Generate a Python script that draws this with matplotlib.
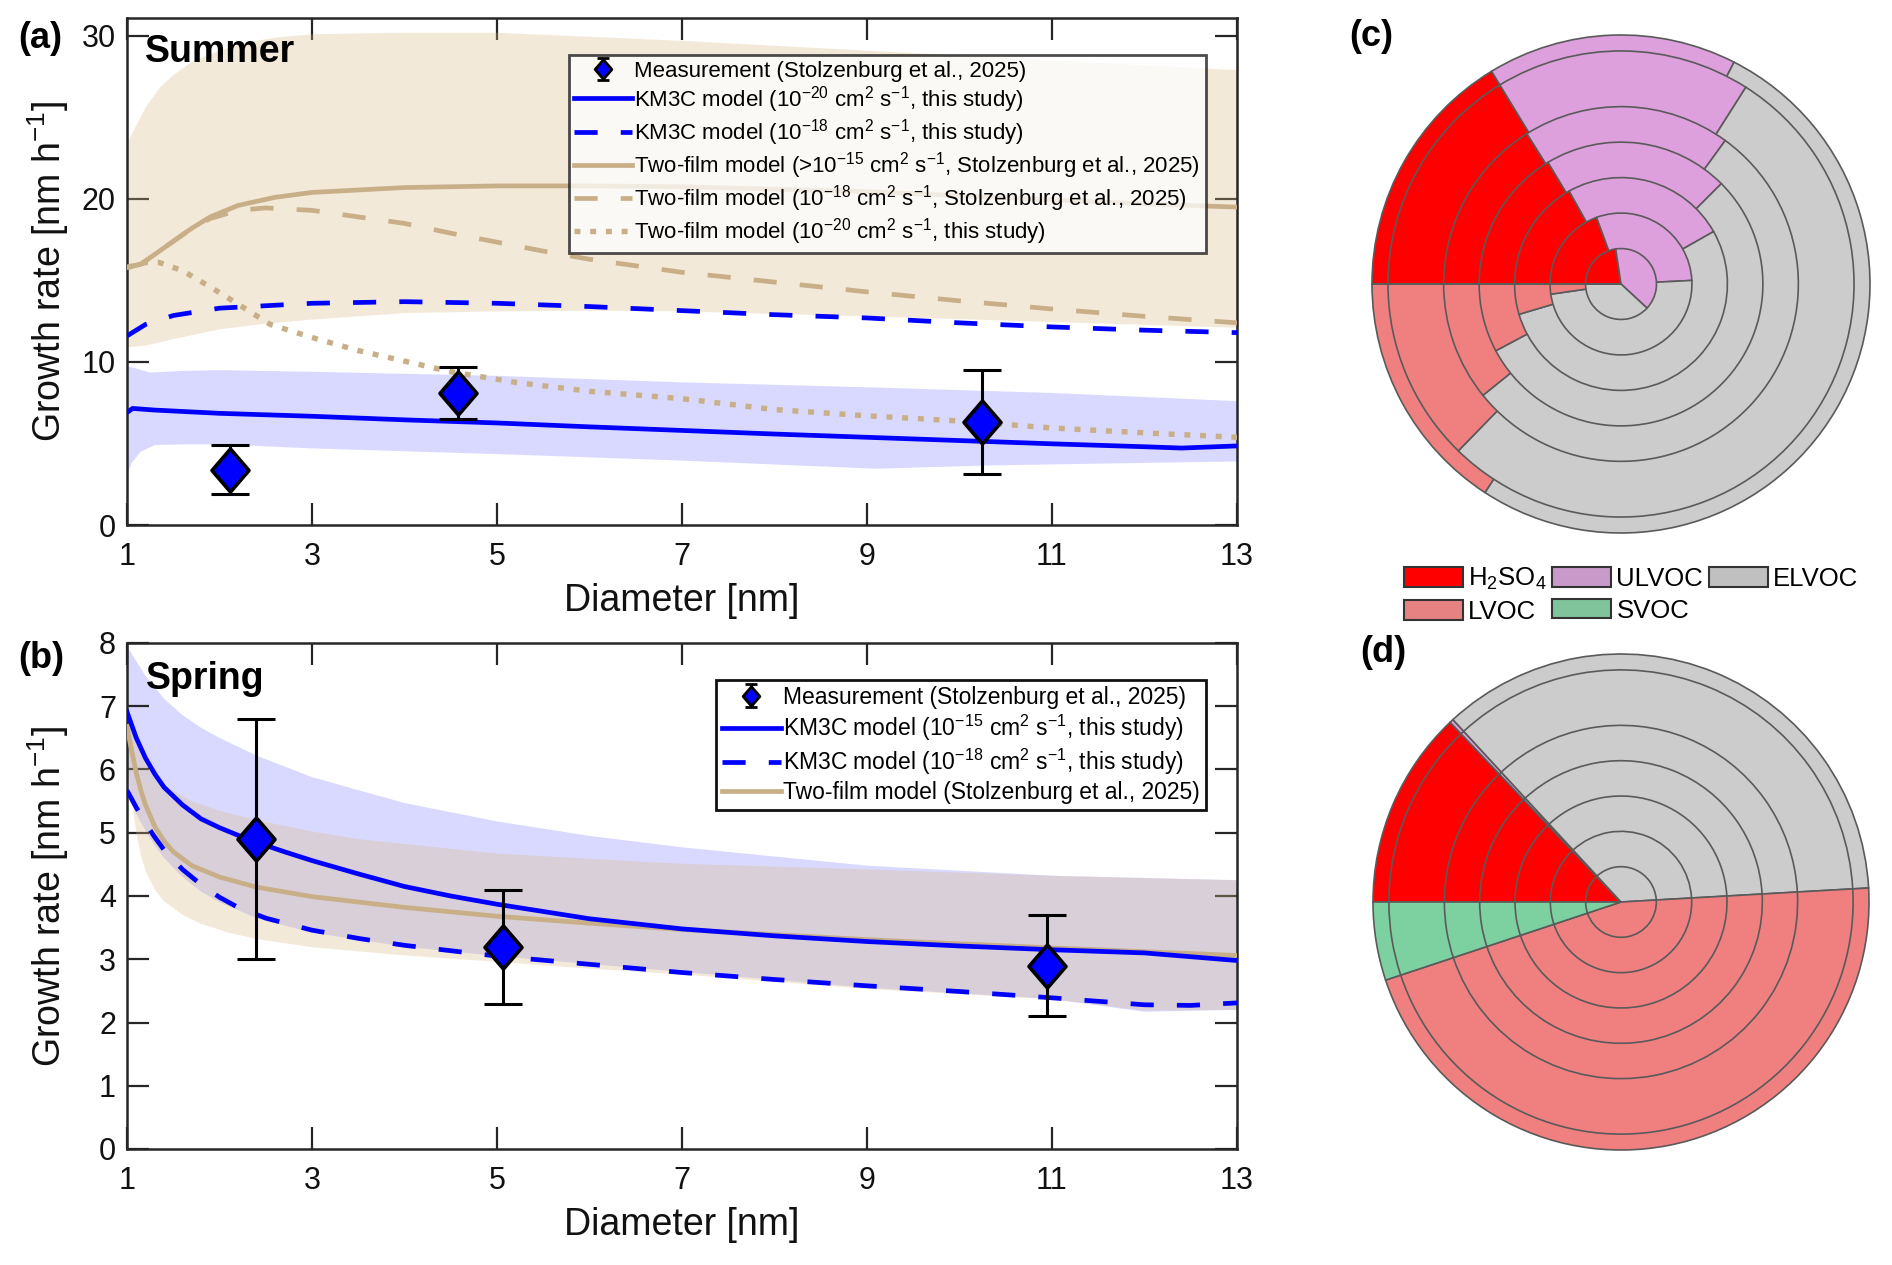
import numpy as np
import matplotlib
matplotlib.use("Agg")
import matplotlib.pyplot as plt
from matplotlib.path import Path
from matplotlib.patches import Patch

plt.rcParams['font.family'] = ['Liberation Sans', 'DejaVu Sans']
plt.rcParams['mathtext.fontset'] = 'custom'
plt.rcParams['mathtext.rm'] = 'Liberation Sans'
plt.rcParams['mathtext.it'] = 'Liberation Sans:italic'
plt.rcParams['mathtext.bf'] = 'Liberation Sans:bold'

# ---------------- data: panel (a) Summer ----------------
meas_a_x = [2.11, 4.58, 10.24]
meas_a_y = [3.4, 8.1, 6.3]
meas_a_err = [1.5, 1.6, 3.2]

km3c20_a_x = [1.0, 1.06, 1.3, 2, 3, 4, 5, 6, 7, 8, 9, 10, 11, 12, 12.4, 13]
km3c20_a_y = [6.9, 7.15, 7.05, 6.85, 6.67, 6.45, 6.26, 6.02, 5.8, 5.58, 5.38, 5.18, 4.98, 4.8, 4.72, 4.85]

km3c20_band_up_x = [1, 1.1, 1.25, 1.6, 2, 3, 5, 7, 9, 11, 13]
km3c20_band_up_y = [9.75, 9.6, 9.35, 9.45, 9.5, 9.4, 9.15, 8.75, 8.45, 8.1, 7.6]
km3c20_band_lo_x = [1, 1.05, 1.15, 1.3, 1.6, 2, 3, 5, 7, 9.1, 10.3, 13]
km3c20_band_lo_y = [3.1, 3.8, 4.5, 4.9, 4.95, 4.95, 4.7, 4.35, 3.95, 3.45, 3.65, 3.9]

km3c18_a_x = [1, 1.2, 1.5, 2, 3, 4, 5, 6, 7, 8, 9, 10, 11, 12, 13]
km3c18_a_y = [11.6, 12.3, 12.85, 13.3, 13.6, 13.7, 13.6, 13.4, 13.15, 12.9, 12.7, 12.4, 12.15, 11.95, 11.8]

tf15_a_x = [1, 1.15, 1.3, 1.5, 1.7, 1.9, 2.2, 2.6, 3, 4, 5, 6, 7, 8, 9, 10, 11, 12, 13]
tf15_a_y = [15.8, 16.0, 16.6, 17.4, 18.2, 18.9, 19.6, 20.1, 20.4, 20.7, 20.8, 20.8, 20.75, 20.6, 20.45, 20.2, 19.95, 19.7, 19.5]

tf18_a_x = [1, 1.15, 1.3, 1.5, 1.7, 1.9, 2.2, 2.5, 3, 3.5, 4, 4.5, 5, 5.5, 6, 6.5, 7, 7.5, 8, 9, 10, 11, 12, 13]
tf18_a_y = [15.8, 16.0, 16.6, 17.4, 18.2, 18.8, 19.3, 19.45, 19.3, 18.9, 18.5, 17.9, 17.35, 16.8, 16.3, 15.9, 15.5, 15.2, 14.9, 14.3, 13.75, 13.25, 12.8, 12.4]

tf20_a_x = [1, 1.2, 1.35, 1.6, 1.9, 2.2, 2.55, 3, 3.5, 4, 4.5, 5.2, 6, 7, 8, 9, 10, 11, 12, 13]
tf20_a_y = [15.8, 16.1, 16.1, 15.6, 14.6, 13.55, 12.3, 11.5, 10.7, 10.05, 9.4, 8.75, 8.2, 7.75, 7.08, 6.7, 6.38, 5.95, 5.65, 5.38]

tf_band_up_a_x = [1, 1.1, 1.2, 1.35, 1.5, 1.7, 2, 2.3, 2.6, 3, 4, 5, 7, 9, 11, 13]
tf_band_up_a_y = [23.4, 24.5, 25.6, 26.8, 27.6, 28.4, 29.1, 29.6, 29.9, 30.1, 30.2, 30.2, 29.7, 29.1, 28.5, 27.9]
tf_band_lo_a_x = [1, 1.2, 1.5, 2, 2.5, 3, 4, 5, 6, 7, 9, 11, 13]
tf_band_lo_a_y = [10.9, 11.0, 11.4, 12.0, 12.35, 12.6, 13.0, 13.1, 13.15, 13.1, 12.8, 12.45, 12.1]

# ---------------- data: panel (b) Spring ----------------
meas_b_x = [2.39, 5.06, 10.95]
meas_b_y = [4.9, 3.2, 2.9]
meas_b_err = [1.9, 0.9, 0.8]

km3c15_b_x = [1.0, 1.1, 1.2, 1.3, 1.4, 1.6, 1.8, 2.0, 2.2, 2.4, 2.7, 3, 3.5, 4, 4.5, 5, 6, 7, 8, 9, 10, 11, 12, 13]
km3c15_b_y = [6.91, 6.5, 6.18, 5.93, 5.72, 5.44, 5.22, 5.08, 4.96, 4.85, 4.7, 4.56, 4.35, 4.15, 4.0, 3.87, 3.64, 3.48, 3.37, 3.28, 3.21, 3.15, 3.1, 2.98]

km3c18_b_x = [1.0, 1.1, 1.2, 1.3, 1.4, 1.6, 1.8, 2.0, 2.2, 2.5, 3, 3.5, 4, 5, 6, 7, 8, 9, 10, 11, 12, 12.5, 13]
km3c18_b_y = [5.67, 5.4, 5.15, 4.93, 4.73, 4.42, 4.18, 3.98, 3.82, 3.65, 3.46, 3.33, 3.22, 3.05, 2.92, 2.79, 2.68, 2.58, 2.49, 2.39, 2.28, 2.27, 2.31]

tf_b_x = [1.0, 1.05, 1.1, 1.15, 1.2, 1.3, 1.4, 1.5, 1.7, 2.0, 2.4, 3, 4, 5, 6, 7, 9, 11, 13]
tf_b_y = [6.68, 6.3, 5.95, 5.67, 5.44, 5.1, 4.87, 4.7, 4.48, 4.3, 4.14, 3.99, 3.82, 3.68, 3.57, 3.47, 3.31, 3.18, 3.06]

km3c_band_up_b_x = [1.0, 1.2, 1.4, 1.6, 1.8, 2.0, 2.4, 3, 4, 5, 6, 7, 9, 11, 13]
km3c_band_up_b_y = [7.95, 7.48, 7.12, 6.86, 6.66, 6.5, 6.22, 5.88, 5.47, 5.18, 4.95, 4.77, 4.48, 4.32, 4.25]
km3c_band_lo_b_x = [1.0, 1.1, 1.2, 1.3, 1.4, 1.6, 1.8, 2.0, 2.4, 3, 4, 5, 7, 9, 11, 12, 13]
km3c_band_lo_b_y = [5.6, 5.3, 5.03, 4.8, 4.6, 4.3, 4.07, 3.9, 3.65, 3.42, 3.2, 3.05, 2.8, 2.55, 2.37, 2.17, 2.2]

tf_band_up_b_x = [1.0, 1.1, 1.2, 1.3, 1.4, 1.7, 2.0, 2.4, 3, 3.5, 5, 7, 9, 11, 13]
tf_band_up_b_y = [6.9, 6.4, 6.1, 5.9, 5.75, 5.5, 5.35, 5.2, 5.02, 4.9, 4.67, 4.51, 4.42, 4.32, 4.25]
tf_band_lo_b_x = [1.0, 1.05, 1.1, 1.15, 1.2, 1.3, 1.4, 1.6, 1.8, 2.1, 2.4, 3, 4, 5, 6, 7, 9, 11, 12, 13]
tf_band_lo_b_y = [6.2, 5.55, 5.0, 4.65, 4.4, 4.1, 3.92, 3.7, 3.56, 3.42, 3.32, 3.19, 3.06, 2.96, 2.85, 2.76, 2.53, 2.37, 2.19, 2.2]

# ---------------- data: pies (c) summer, (d) spring ----------------
species = ['H$_2$SO$_4$', 'ULVOC', 'ELVOC', 'LVOC', 'SVOC']
ring_radius = [1, 2, 3, 4, 5, 6.57, 7.02]   # inner -> outer
summer_frac = [
    [22.6, 39.3, 38.1, 0.0, 0.0],
    [19.4, 29.8, 48.5, 2.3, 0.0],
    [16.9, 24.9, 53.6, 4.6, 0.0],
    [16.4, 21.1, 54.7, 7.8, 0.0],
    [16.1, 18.9, 54.2, 10.8, 0.0],
    [16.3, 17.7, 53.3, 12.7, 0.0],
    [16.3, 16.2, 51.7, 15.8, 0.0],
]
spring_frac = [[12.9, 0.25, 35.95, 45.8, 5.1] for _ in ring_radius]

# ---------------- style ----------------
BLUE = '#0000FF'
TAN = '#C8AF88'
TAN_BAND = (218/255, 185/255, 132/255)
pie_colors = ['#FF0000', '#DDA0DD', '#CCCCCC', '#F08080', '#7DD1A0']
leg_colors = ['#FF0000', '#C999C9', '#C0C0C0', '#E68282', '#80C49C']
AXC = '#262626'

W, H = 1892, 1265
fig = plt.figure(figsize=(W/100, H/100), dpi=100)

def fig_rect(l, t, r, b):
    return [l/W, 1 - b/H, (r - l)/W, (b - t)/H]

diamond = Path([(0, 1), (0.86, 0), (0, -1), (-0.86, 0), (0, 1)],
               [Path.MOVETO, Path.LINETO, Path.LINETO, Path.LINETO, Path.CLOSEPOLY])

LW = 3.4
DASH = (4.9, 4.9)
LWDOT = 3.9
DOT = (1.1, 1.8)

def style_axes(ax, ylim, yticks):
    ax.set_xlim(1, 13)
    ax.set_ylim(*ylim)
    ax.set_xticks(range(1, 14, 2))
    ax.set_yticks(yticks)
    ax.tick_params(direction='in', length=16, width=1.6, top=True, right=True,
                   labelsize=22, colors=AXC, labelcolor='#111111')
    ax.tick_params(axis='x', pad=12)
    ax.tick_params(axis='y', pad=8)
    for s in ax.spines.values():
        s.set_linewidth(1.8)
        s.set_color(AXC)
    ax.set_xlabel('Diameter [nm]', fontsize=27, color='#111111')
    ax.set_ylabel('Growth rate [nm h$^{-1}$]', fontsize=27, color='#111111')
    ax.xaxis.label.set_va('center')
    ax.yaxis.label.set_va('center')
    ax.xaxis.set_label_coords(0.5, -0.150)
    ax.yaxis.set_label_coords(-0.0712, 0.5)

def band(ax, ux, uy, lx, ly, color, alpha, z):
    px = list(ux) + list(lx)[::-1]
    py = list(uy) + list(ly)[::-1]
    ax.fill(px, py, color=color, alpha=alpha, lw=0, zorder=z)

def meas(ax, x, y, e):
    ax.errorbar(x, y, yerr=e, fmt='none', ecolor='black', elinewidth=2.2,
                capsize=14, capthick=2.2, zorder=10)
    ax.plot(x, y, linestyle='none', marker=diamond, markersize=31,
            markerfacecolor=BLUE, markeredgecolor='black', markeredgewidth=2.6, zorder=11)

def meas_proxy(ax):
    return ax.errorbar([np.nan], [np.nan], yerr=[1], linestyle='none', ecolor='black',
                       elinewidth=2.2, capsize=4.5, capthick=2.2, marker=diamond,
                       markersize=14, markerfacecolor=BLUE, markeredgecolor='black',
                       markeredgewidth=2.0)

# ---------------- panel (a) ----------------
axa = fig.add_axes(fig_rect(127, 18, 1237, 525))
band(axa, km3c20_band_up_x, km3c20_band_up_y, km3c20_band_lo_x, km3c20_band_lo_y, BLUE, 0.15, 1)
band(axa, tf_band_up_a_x, tf_band_up_a_y, tf_band_lo_a_x, tf_band_lo_a_y, TAN_BAND, 0.30, 2)
l_tf15, = axa.plot(tf15_a_x, tf15_a_y, color=TAN, lw=LW, zorder=4)
l_tf18, = axa.plot(tf18_a_x, tf18_a_y, color=TAN, lw=LW, dashes=DASH, zorder=4)
l_tf20, = axa.plot(tf20_a_x, tf20_a_y, color=TAN, lw=LWDOT, dashes=DOT, zorder=4,
                   dash_capstyle='butt')
l_k20, = axa.plot(km3c20_a_x, km3c20_a_y, color=BLUE, lw=LW, zorder=5)
l_k18, = axa.plot(km3c18_a_x, km3c18_a_y, color=BLUE, lw=LW, dashes=DASH, zorder=5)
meas(axa, meas_a_x, meas_a_y, meas_a_err)
pa = meas_proxy(axa)
style_axes(axa, (0, 31.1), [0, 10, 20, 30])
axa.text(0.0162, 0.933, 'Summer', transform=axa.transAxes, fontsize=27,
         fontweight='bold', ha='left', va='center')
leg_a = axa.legend([pa, l_k20, l_k18, l_tf15, l_tf18, l_tf20],
                   ['Measurement (Stolzenburg et al., 2025)',
                    'KM3C model (10$^{-20}$ cm$^{2}$ s$^{-1}$, this study)',
                    'KM3C model (10$^{-18}$ cm$^{2}$ s$^{-1}$, this study)',
                    'Two-film model (>10$^{-15}$ cm$^{2}$ s$^{-1}$, Stolzenburg et al., 2025)',
                    'Two-film model (10$^{-18}$ cm$^{2}$ s$^{-1}$, Stolzenburg et al., 2025)',
                    'Two-film model (10$^{-20}$ cm$^{2}$ s$^{-1}$, this study)'],
                   loc='upper right', bbox_to_anchor=(0.972, 0.927), borderaxespad=0,
                   fontsize=16, handlelength=2.6, handletextpad=0.1, labelspacing=0.1,
                   borderpad=0.25, fancybox=False, framealpha=0.75, edgecolor='#111111')
leg_a.get_frame().set_linewidth(2.0)
leg_a.set_zorder(20)

# ---------------- panel (b) ----------------
axb = fig.add_axes(fig_rect(127, 643, 1237, 1149))
band(axb, km3c_band_up_b_x, km3c_band_up_b_y, km3c_band_lo_b_x, km3c_band_lo_b_y, BLUE, 0.15, 1)
band(axb, tf_band_up_b_x, tf_band_up_b_y, tf_band_lo_b_x, tf_band_lo_b_y, TAN_BAND, 0.30, 2)
l_tfb, = axb.plot(tf_b_x, tf_b_y, color=TAN, lw=LW, zorder=4)
l_k15b, = axb.plot(km3c15_b_x, km3c15_b_y, color=BLUE, lw=LW, zorder=5)
l_k18b, = axb.plot(km3c18_b_x, km3c18_b_y, color=BLUE, lw=LW, dashes=DASH, zorder=5)
meas(axb, meas_b_x, meas_b_y, meas_b_err)
pb = meas_proxy(axb)
style_axes(axb, (0, 8), list(range(0, 9)))
axb.text(0.0171, 0.929, 'Spring', transform=axb.transAxes, fontsize=27,
         fontweight='bold', ha='left', va='center')
leg_b = axb.legend([pb, l_k15b, l_k18b, l_tfb],
                   ['Measurement (Stolzenburg et al., 2025)',
                    'KM3C model (10$^{-15}$ cm$^{2}$ s$^{-1}$, this study)',
                    'KM3C model (10$^{-18}$ cm$^{2}$ s$^{-1}$, this study)',
                    'Two-film model (Stolzenburg et al., 2025)'],
                   loc='upper right', bbox_to_anchor=(0.972, 0.927), borderaxespad=0,
                   fontsize=16.5, handlelength=2.6, handletextpad=0.1, labelspacing=0.18,
                   borderpad=0.25, fancybox=False, framealpha=1.0, edgecolor='#111111')
leg_b.get_frame().set_linewidth(2.0)
leg_b.set_zorder(20)

# ---------------- pies ----------------
def pie_panel(cx, cy, r, fracs):
    lim = 1.012
    half = r * lim
    ax = fig.add_axes(fig_rect(cx - half, cy - half, cx + half, cy + half))
    rmax = max(ring_radius)
    for rad, fr in sorted(zip(ring_radius, fracs), key=lambda t: -t[0]):
        ax.pie(fr, radius=rad / rmax, colors=pie_colors, startangle=180,
               counterclock=False,
               wedgeprops=dict(edgecolor='#5a5a5a', linewidth=1.2))
    ax.set_xlim(-lim, lim)
    ax.set_ylim(-lim, lim)
    ax.set_aspect('equal')
    ax.axis('off')
    return ax

pie_panel(1621, 284, 249, summer_frac)
pie_panel(1621, 902, 248, spring_frac)

order = [0, 3, 1, 4, 2]
handles = [Patch(facecolor=leg_colors[i], edgecolor='#333333', linewidth=1.5) for i in order]
labels = [species[i] for i in order]
fig.legend(handles, labels, ncol=3, loc='upper left',
           bbox_to_anchor=(1391 / W, 1 - 553 / H), frameon=False, borderpad=0,
           fontsize=18.5, handlelength=2.3, handleheight=0.8, handletextpad=0.2,
           columnspacing=0.22, labelspacing=0.3)

# ---------------- panel labels ----------------
for lab, x, y in [('(a)', 18, 38), ('(b)', 18, 659), ('(c)', 1349, 36), ('(d)', 1360, 653)]:
    fig.text(x / W, 1 - y / H, lab, fontsize=26, fontweight='bold', ha='left', va='center')

fig.savefig('out.png', dpi=100)
